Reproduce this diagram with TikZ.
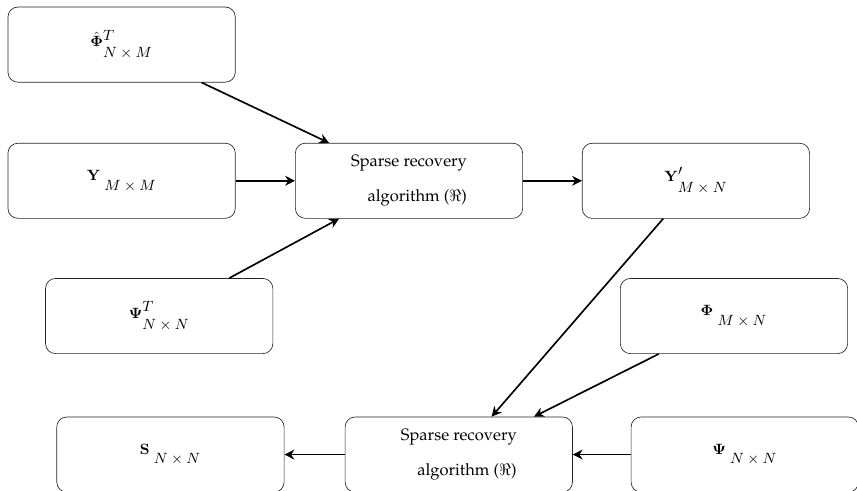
\documentclass[tikz,border=0pt]{standalone}
\usepackage[T1]{fontenc}
\renewcommand{\rmdefault}{ppl}
\usepackage{amsmath}
\usepackage{amssymb}
\usetikzlibrary{arrows.meta}

\begin{document}
\begin{tikzpicture}[
    block/.style={draw=black!85, rounded corners=6pt, minimum width=4.84cm,
      minimum height=1.6cm, inner sep=0pt, font=\small},
    algbox/.style={block, font=\normalsize, align=left},
    link/.style={-{Stealth[length=6pt,width=6pt]}, line width=1pt}]
  \useasboundingbox (0,0) rectangle (18.25,10.44);

  % first stage
  \node[block] (phihat) at (2.59,9.49)
       {$\hat{\mathbf{\Phi}}^{\textstyle T}_{\raisebox{-5pt}{$N\times M$}}$};
  \node[block] (Y) at (2.59,6.59)
       {$\mathbf{Y}_{\raisebox{-5pt}{$\;M\times M$}}$};
  \node[block] (psiT) at (3.39,3.71)
       {$\mathbf{\Psi}^{\textstyle T}_{\raisebox{-5pt}{$N\times N$}}$};
  \node[algbox] (sr1) at (8.71,6.59)
       {Sparse recovery\\[9pt]\quad algorithm ($\Re$)};
  \node[block] (Yp) at (14.82,6.59)
       {$\mathbf{Y}^{\textstyle\prime}_{\raisebox{-5pt}{$M\times N$}}$};

  % second stage
  \node[block] (phi) at (15.63,3.71)
       {$\mathbf{\Phi}_{\raisebox{-5pt}{$\;M\times N$}}$};
  \node[algbox] (sr2) at (9.77,0.76)
       {Sparse recovery\\[9pt]\quad algorithm ($\Re$)};
  \node[block] (psi) at (15.86,0.76)
       {$\mathbf{\Psi}_{\raisebox{-5pt}{$\;N\times N$}}$};
  \node[block] (S) at (3.63,0.76)
       {$\mathbf{S}_{\raisebox{-5pt}{$\;N\times N$}}$};

  % connections
  \draw[link] (phihat) -- (sr1);
  \draw[link] (Y) -- (sr1);
  \draw[link] (psiT) -- (sr1);
  \draw[link] (sr1) -- (Yp);
  \draw[link] (Yp) -- (sr2);
  \draw[link] (phi) -- (sr2);
  \draw[link] (psi) -- (sr2);
  \draw[link] (sr2) -- (S);
\end{tikzpicture}
\end{document}
